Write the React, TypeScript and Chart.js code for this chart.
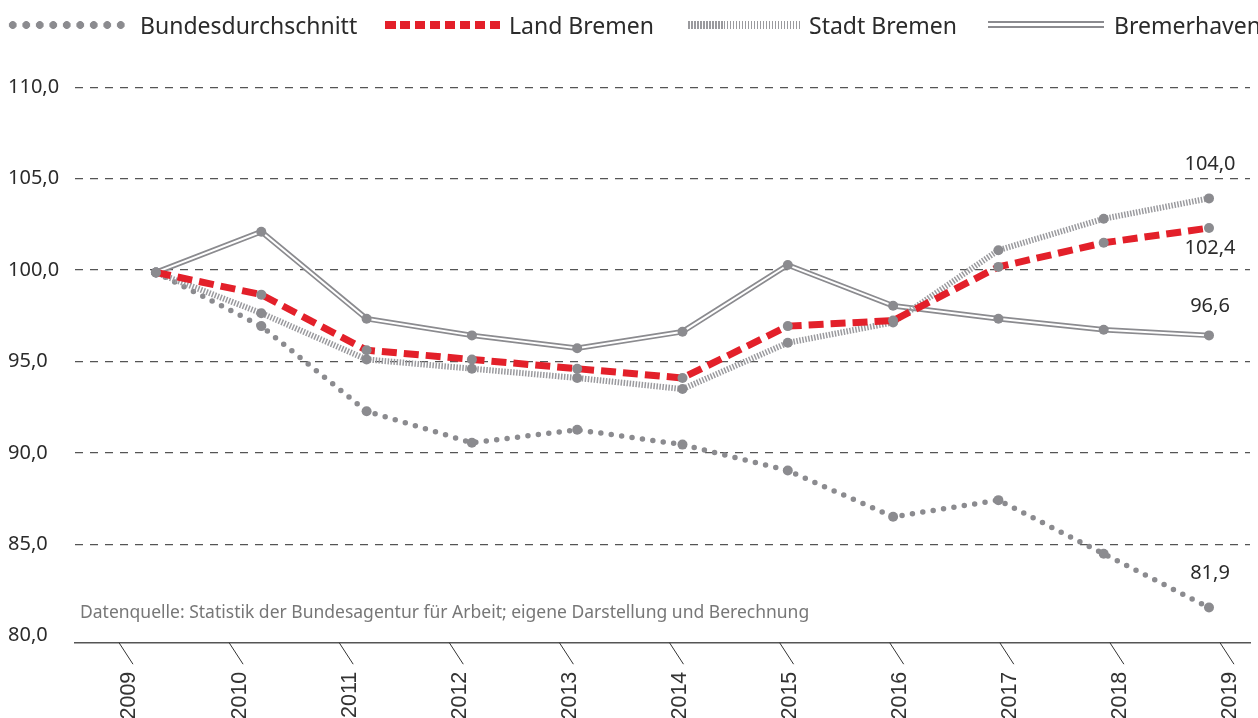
import React, { useEffect, useRef } from 'react';
import { Chart, registerables } from 'chart.js';

Chart.register(...registerables);

// ---------- data ----------
const years = [2009, 2010, 2011, 2012, 2013, 2014, 2015, 2016, 2017, 2018, 2019];
const bundesdurchschnitt = [100, 97.1, 92.5, 90.8, 91.5, 90.7, 89.3, 86.8, 87.7, 84.8, 81.9];
const landBremen = [100, 98.8, 95.8, 95.3, 94.8, 94.3, 97.1, 97.4, 100.3, 101.6, 102.4];
const stadtBremen = [100, 97.8, 95.3, 94.8, 94.3, 93.7, 96.2, 97.3, 101.2, 102.9, 104.0];
const bremerhaven = [100, 102.2, 97.5, 96.6, 95.9, 96.8, 100.4, 98.2, 97.5, 96.9, 96.6];
const yTickValues = [80, 85, 90, 95, 100, 105, 110];
const legendLabels = ['Bundesdurchschnitt', 'Land Bremen', 'Stadt Bremen', 'Bremerhaven'];
const sourceNote = 'Datenquelle: Statistik der Bundesagentur für Arbeit; eigene Darstellung und Berechnung';

// ---------- styles ----------
const GRAY = '#8b8b8f';
const STRIPE = '#9a9a9e';
const RED = '#e3202a';
const TEXT = '#2b2b2b';

const fmt = (v: number) => Number(v).toFixed(1).replace('.', ',');
const toPoints = (vals: number[]) => years.map((x, i) => ({ x, y: vals[i] }));

// end-label vertical offsets (dataset index -> dy)
const endLabelOffsets: { idx: number; dy: number }[] = [
  { idx: 1, dy: -34 }, // Stadt Bremen
  { idx: 0, dy: 20 }, // Land Bremen
  { idx: 3, dy: -29 }, // Bremerhaven
  { idx: 2, dy: -34 }, // Bundesdurchschnitt
];

const decorPlugin = {
  id: 'decor',
  afterDraw(chart: any) {
    const ctx = chart.ctx;
    const xt = chart.scales.xTicks;
    const bottom = chart.chartArea.bottom;
    ctx.save();
    // slanted tick marks + rotated year labels
    ctx.strokeStyle = '#333';
    ctx.lineWidth = 1;
    ctx.font = '21.5px "Liberation Sans", Arial, sans-serif';
    ctx.fillStyle = '#333';
    ctx.textAlign = 'right';
    ctx.textBaseline = 'middle';
    xt.ticks.forEach((t: any, i: number) => {
      const px = xt.getPixelForValue(t.value);
      ctx.beginPath();
      ctx.moveTo(px, bottom);
      ctx.lineTo(px + 14, bottom + 21.5);
      ctx.stroke();
      ctx.save();
      ctx.translate(px + 10.5, bottom + 29);
      ctx.rotate(-Math.PI / 2);
      ctx.fillText(String(years[i]), 0, 0);
      ctx.restore();
    });
    // end value labels
    ctx.font = '20px "Noto Sans"';
    ctx.fillStyle = TEXT;
    ctx.textAlign = 'center';
    ctx.textBaseline = 'middle';
    endLabelOffsets.forEach(({ idx, dy }) => {
      const meta = chart.getDatasetMeta(idx);
      const last = meta.data.length - 1;
      const pt = meta.data[last];
      const v = chart.data.datasets[idx].data[last].y;
      ctx.fillText(fmt(v), pt.x + 1, pt.y + dy);
    });
    ctx.restore();
  },
};

export default function App() {
  const ref = useRef<HTMLCanvasElement>(null);

  useEffect(() => {
    const pointBase = {
      pointRadius: 5,
      pointHoverRadius: 5,
      pointBackgroundColor: GRAY,
      pointBorderWidth: 0,
      tension: 0,
      fill: false,
      xAxisID: 'x',
      yAxisID: 'y',
    };
    const chart = new Chart(ref.current as HTMLCanvasElement, {
      type: 'line',
      data: {
        datasets: [
          {
            ...pointBase,
            label: legendLabels[1],
            data: toPoints(landBremen),
            borderColor: RED,
            borderWidth: 7,
            borderDash: [15, 7],
            borderCapStyle: 'butt',
            order: 0,
          },
          {
            ...pointBase,
            label: legendLabels[2],
            data: toPoints(stadtBremen),
            borderColor: STRIPE,
            borderWidth: 6,
            borderDash: [1.5, 1.5],
            borderCapStyle: 'butt',
            order: 1,
          },
          {
            ...pointBase,
            label: legendLabels[0],
            data: toPoints(bundesdurchschnitt),
            borderColor: GRAY,
            borderWidth: 5.5,
            borderDash: [0, 10.5],
            borderCapStyle: 'round',
            order: 2,
          },
          {
            ...pointBase,
            label: legendLabels[3],
            data: toPoints(bremerhaven),
            showLine: false,
            borderColor: GRAY,
            order: 3,
          },
          {
            ...pointBase,
            label: legendLabels[3] + ' (inner)',
            data: toPoints(bremerhaven),
            borderColor: '#ffffff',
            borderWidth: 2,
            pointRadius: 0,
            order: 4,
          },
          {
            ...pointBase,
            label: legendLabels[3] + ' (outer)',
            data: toPoints(bremerhaven),
            borderColor: GRAY,
            borderWidth: 5.5,
            pointRadius: 0,
            order: 5,
          },
        ],
      },
      options: {
        animation: false,
        responsive: false,
        maintainAspectRatio: false,
        devicePixelRatio: 1,
        events: [],
        layout: { padding: { top: 87.3, left: 8, right: 8, bottom: 0 } },
        plugins: {
          legend: { display: false },
          tooltip: { enabled: false },
        },
        scales: {
          x: { type: 'linear', min: 2008.2308, max: 2019.3894, display: false },
          y: { type: 'linear', min: 80, max: 110, display: false },
          xTicks: {
            axis: 'x',
            type: 'linear',
            position: 'bottom',
            min: 2008.6004,
            max: 2019.2725,
            grid: { display: false },
            border: { display: true, color: '#555', width: 1.5 },
            afterBuildTicks: (s: any) => {
              s.ticks = years.map((v) => ({ value: v }));
            },
            afterFit: (s: any) => {
              s.height = 75.3;
              s.paddingLeft = 0;
              s.paddingRight = 0;
            },
            ticks: { display: false },
          },
          yGrid: {
            axis: 'y',
            type: 'linear',
            position: 'left',
            min: 79.611,
            max: 110,
            afterBuildTicks: (s: any) => {
              s.ticks = yTickValues.map((v) => ({ value: v }));
            },
            afterFit: (s: any) => {
              s.width = 67;
            },
            grid: {
              color: (c: any) => (c.tick && c.tick.value === 80 ? 'rgba(0,0,0,0)' : '#555'),
              lineWidth: 1.2,
              drawTicks: false,
            },
            border: { display: false, dash: [8, 7] },
            ticks: {
              crossAlign: 'far',
              padding: 0,
              color: TEXT,
              font: { family: '"Noto Sans", sans-serif', size: 20 },
              callback: (v: any) => fmt(v),
            },
          },
        },
      } as any,
      plugins: [decorPlugin],
    });
    return () => chart.destroy();
  }, []);

  const textStyle = (left: number): React.CSSProperties => ({
    position: 'absolute',
    left,
    top: 10,
    lineHeight: '30px',
    fontSize: 23,
    color: TEXT,
    whiteSpace: 'nowrap',
  });

  return (
    <div
      style={{
        position: 'fixed',
        left: 0,
        top: 0,
        width: 1258,
        height: 718,
        background: '#fff',
        fontFamily: '"Noto Sans", sans-serif',
        overflow: 'hidden',
      }}
    >
      <canvas
        ref={ref}
        width={1258}
        height={718}
        style={{ position: 'absolute', left: 0, top: 0, width: 1258, height: 718 }}
      />
      {/* legend */}
      <div
        style={{
          position: 'absolute',
          left: 6.25,
          top: 18,
          width: 121.5,
          height: 14,
          backgroundImage: `radial-gradient(circle, ${GRAY} 3.6px, rgba(255,255,255,0) 4.2px)`,
          backgroundSize: '13.5px 14px',
          backgroundRepeat: 'repeat-x',
        }}
      />
      <div style={textStyle(140)}>{legendLabels[0]}</div>
      <div
        style={{
          position: 'absolute',
          left: 385,
          top: 21,
          width: 115,
          height: 8,
          backgroundImage: `repeating-linear-gradient(to right, ${RED} 0px, ${RED} 10.5px, rgba(255,255,255,0) 10.5px, rgba(255,255,255,0) 14.93px)`,
        }}
      />
      <div style={textStyle(509)}>{legendLabels[1]}</div>
      <div
        style={{
          position: 'absolute',
          left: 688,
          top: 21,
          width: 112,
          height: 8,
          backgroundImage: `repeating-linear-gradient(to right, ${STRIPE} 0px, ${STRIPE} 1.5px, rgba(255,255,255,0) 1.5px, rgba(255,255,255,0) 3px)`,
        }}
      />
      <div style={textStyle(809)}>{legendLabels[2]}</div>
      <div
        style={{
          position: 'absolute',
          left: 988,
          top: 20.5,
          width: 116,
          height: 3,
          borderTop: `2.5px solid ${GRAY}`,
          borderBottom: `2.5px solid ${GRAY}`,
        }}
      />
      <div style={textStyle(1114)}>{legendLabels[3]}</div>
      {/* source note */}
      <div
        style={{
          position: 'absolute',
          left: 80,
          top: 600,
          lineHeight: '22px',
          fontSize: 17.5,
          color: '#777',
          whiteSpace: 'nowrap',
        }}
      >
        {sourceNote}
      </div>
    </div>
  );
}
